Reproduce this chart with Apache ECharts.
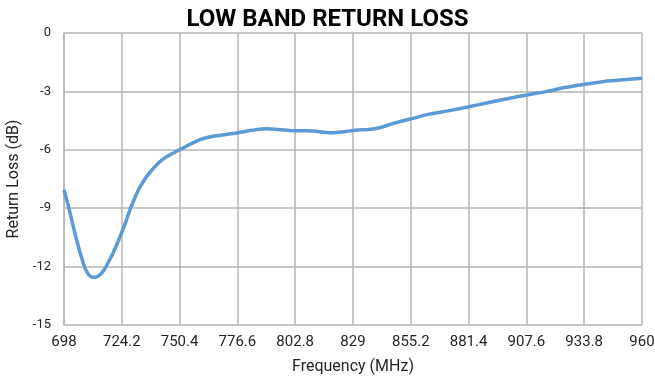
<!DOCTYPE html>
<html>
<head>
<meta charset="utf-8">
<script src="https://cdn.jsdelivr.net/npm/echarts@6/dist/echarts.min.js"></script>
<style>
  html, body { margin: 0; padding: 0; background: #fff; }
  #chart { width: 655px; height: 381px; }
</style>
</head>
<body>
<div id="chart"></div>
<script>
// Measured return loss across the low band
const frequencyMHz = [698, 700, 702, 704, 706, 708, 710, 712, 714, 716, 718, 720, 722, 724, 726, 728, 730, 732, 735, 738, 741, 744, 747, 750, 753, 756, 760, 763, 767, 772, 777, 783, 790, 797, 803, 811, 816, 820, 825, 830, 838, 843, 848, 855, 863, 872, 881, 890, 900, 908, 917, 925, 934, 942, 950, 960];
const returnLossDb = [-8.05, -8.9, -9.85, -10.75, -11.55, -12.2, -12.5, -12.55, -12.45, -12.2, -11.8, -11.35, -10.85, -10.3, -9.7, -9.05, -8.5, -8.0, -7.45, -7.02, -6.66, -6.39, -6.2, -6.02, -5.84, -5.67, -5.47, -5.37, -5.28, -5.2, -5.12, -5.0, -4.92, -4.97, -5.02, -5.03, -5.1, -5.13, -5.07, -5.0, -4.93, -4.8, -4.62, -4.42, -4.18, -4.0, -3.8, -3.58, -3.35, -3.18, -3.0, -2.8, -2.63, -2.5, -2.42, -2.32];

// Axis tick labels
const xTickLabels = ['698', '724.2', '750.4', '776.6', '802.8', '829', '855.2', '881.4', '907.6', '933.8', '960'];
const yTickLabels = ['-15', '-12', '-9', '-6', '-3', '0'];

const chart = echarts.init(document.getElementById('chart'), null, { renderer: 'canvas' });

const xMin = Number(xTickLabels[0]);
const xMax = Number(xTickLabels[xTickLabels.length - 1]);
const xStep = (xMax - xMin) / (xTickLabels.length - 1);
const yMin = Number(yTickLabels[0]);
const yMax = Number(yTickLabels[yTickLabels.length - 1]);
const yStep = (yMax - yMin) / (yTickLabels.length - 1);

const font = 'Roboto, "Noto Sans", sans-serif';
const textColor = '#262626';
const gridColor = '#b4b4b4';

chart.setOption({
  animation: false,
  backgroundColor: '#ffffff',
  title: {
    text: 'LOW BAND RETURN LOSS',
    left: 'center',
    top: 3,
    textStyle: { fontFamily: font, fontWeight: 'bold', fontSize: 24, color: '#000000' }
  },
  grid: { left: 64, right: 13, top: 33, bottom: 56, outerBoundsMode: 'none', containLabel: false },
  xAxis: {
    type: 'value',
    min: xMin,
    max: xMax,
    interval: xStep,
    name: 'Frequency (MHz)',
    nameLocation: 'middle',
    nameGap: 34,
    nameTextStyle: { fontFamily: font, fontSize: 16, color: textColor },
    axisLine: { show: false },
    axisTick: { show: false },
    axisLabel: {
      margin: 10,
      fontFamily: font,
      fontSize: 15,
      color: textColor,
      formatter: (v) => {
        const i = Math.round((v - xMin) / xStep);
        return xTickLabels[i] !== undefined ? xTickLabels[i] : '';
      }
    },
    splitLine: { show: true, lineStyle: { color: gridColor, width: 1.5 } }
  },
  yAxis: {
    type: 'value',
    min: yMin,
    max: yMax,
    interval: yStep,
    name: 'Return Loss (dB)',
    nameLocation: 'middle',
    nameGap: 42,
    nameRotate: 90,
    nameTextStyle: { fontFamily: font, fontSize: 16, color: textColor },
    axisLine: { show: true, lineStyle: { color: gridColor, width: 1.5 } },
    axisTick: { show: false },
    axisLabel: {
      margin: 13,
      fontFamily: font,
      fontSize: 13,
      color: textColor,
      formatter: (v) => {
        const i = Math.round((v - yMin) / yStep);
        return yTickLabels[i] !== undefined ? yTickLabels[i] : '';
      }
    },
    splitLine: { show: true, lineStyle: { color: gridColor, width: 1.5 } }
  },
  series: [{
    type: 'line',
    data: frequencyMHz.map((f, i) => [f, returnLossDb[i]]),
    smooth: 0.3,
    showSymbol: false,
    lineStyle: { color: '#5b9bd5', width: 3.5 },
    itemStyle: { color: '#5b9bd5' }
  }]
});
</script>
</body>
</html>
